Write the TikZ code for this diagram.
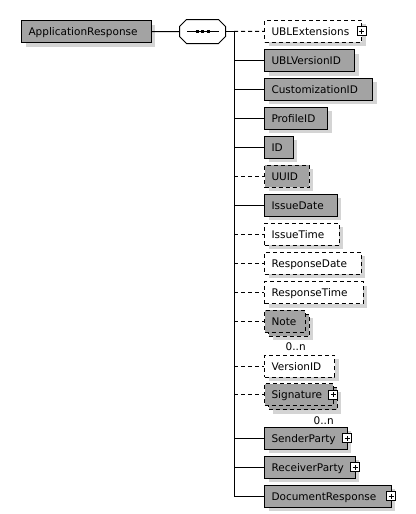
\documentclass[tikz,border=0pt]{standalone}
\usepackage{fontspec}
\setmainfont{DejaVu Sans}
\usetikzlibrary{shadows,calc}
\definecolor{elgray}{HTML}{A3A3A3}
\definecolor{shadowc}{HTML}{D4D4D4}
\begin{document}
\begin{tikzpicture}[x=1pt,y=-1pt,line width=1pt,
  font=\fontsize{10.5}{12}\selectfont,
  dsh/.style={dash pattern=on 4pt off 3pt},
  shad/.style={general shadow={shadow xshift=4pt,shadow yshift=-4pt,fill=shadowc,draw=none}},
  elem/.style={draw=black,line width=1pt,anchor=west,minimum height=22pt,inner xsep=7pt,inner ysep=0pt,align=left,text height=10pt,text depth=2.4pt,shad},
  req/.style={elem,fill=elgray},
  optwhite/.style={elem,fill=white,dsh},
  optgray/.style={elem,fill=elgray,dsh},
  multi/.style={general shadow={shadow xshift=8pt,shadow yshift=-8pt,fill=shadowc,draw=none},
                general shadow={shadow xshift=4pt,shadow yshift=-4pt,fill=elgray,draw=black,dsh}},
  plusbox/.style={draw=black,fill=white,minimum size=9pt,inner sep=0pt,line width=1pt,solid,
    path picture={\draw[line width=1pt] ([xshift=2pt]path picture bounding box.west) -- ([xshift=-2pt]path picture bounding box.east)
      ([yshift=-2pt]path picture bounding box.north) -- ([yshift=2pt]path picture bounding box.south);}},
  occ/.style={anchor=east,inner sep=0pt},
  conn/.style={draw=black,line width=1pt},
  optconn/.style={conn,dsh}]
\useasboundingbox (0,0) rectangle (415,514);

% root
\node[req,minimum width=129.7pt,text width=115.7pt] (root) at (21,31.7) {ApplicationResponse};

% sequence compositor
\node[minimum width=45pt,minimum height=23pt,inner sep=0pt] (seq) at (202.5,31.5) {};
\begin{scope}[shift={(4,4)}]
\fill[shadowc] ($(seq.north west)+(7,0)$) -- ($(seq.north east)+(-7,0)$) -- ($(seq.north east)+(0,7)$) -- ($(seq.south east)+(0,-7)$)
  -- ($(seq.south east)+(-7,0)$) -- ($(seq.south west)+(7,0)$) -- ($(seq.south west)+(0,-7)$) -- ($(seq.north west)+(0,7)$) -- cycle;
\end{scope}
\draw[fill=white] ($(seq.north west)+(7,0)$) -- ($(seq.north east)+(-7,0)$) -- ($(seq.north east)+(0,7)$) -- ($(seq.south east)+(0,-7)$)
  -- ($(seq.south east)+(-7,0)$) -- ($(seq.south west)+(7,0)$) -- ($(seq.south west)+(0,-7)$) -- ($(seq.north west)+(0,7)$) -- cycle;
\draw ($(seq.west)+(7.5,0)$) -- ($(seq.east)+(-6.5,0)$);
\foreach \dx in {-5.5,0,5.5} {\fill ($(seq.center)+(\dx-1.5,-1.5)$) rectangle ($(seq.center)+(\dx+1.5,1.5)$);}

% children
\node[optwhite,minimum width=97pt,text width=83pt] (ublext) at (264,31.3) {UBLExtensions};
\node[req,minimum width=90pt,text width=76pt] (ublver) at (264,60.6) {UBLVersionID};
\node[req,minimum width=108pt,text width=94pt] (cust) at (264,89.4) {CustomizationID};
\node[req,minimum width=63pt,text width=49pt] (prof) at (264,118.3) {ProfileID};
\node[req,minimum width=28.5pt,text width=14.5pt] (id) at (264,147.3) {ID};
\node[optgray,minimum width=44.7pt,text width=30.7pt] (uuid) at (264,176.3) {UUID};
\node[req,minimum width=72.7pt,text width=58.7pt] (idate) at (264,205.2) {IssueDate};
\node[optwhite,minimum width=74.7pt,text width=60.7pt] (itime) at (264,234.3) {IssueTime};
\node[optwhite,minimum width=96.7pt,text width=82.7pt] (rdate) at (264,263.3) {ResponseDate};
\node[optwhite,minimum width=98.7pt,text width=84.7pt] (rtime) at (264,292.5) {ResponseTime};
\node[optgray,multi,minimum width=40.7pt,text width=26.7pt] (note) at (264,321.2) {Note};
\node[optwhite,minimum width=70pt,text width=56pt] (verid) at (264,366.3) {VersionID};
\node[optgray,multi,minimum width=68.7pt,text width=54.7pt] (sig) at (264,394.7) {Signature};
\node[req,minimum width=82.7pt,text width=68.7pt] (sender) at (264,438.3) {SenderParty};
\node[req,minimum width=90.7pt,text width=76.7pt] (receiver) at (264,467.3) {ReceiverParty};
\node[req,minimum width=126.7pt,text width=112.7pt] (docresp) at (264,496.3) {DocumentResponse};

% expand boxes
\node[plusbox] (p1) at ([xshift=-0.5pt]ublext.east) {};
\node[plusbox] (p2) at ([xshift=-0.5pt]sig.east) {};
\node[plusbox] (p3) at ([xshift=-0.5pt]sender.east) {};
\node[plusbox] (p4) at ([xshift=-0.5pt]receiver.east) {};
\node[plusbox] (p5) at ([xshift=-0.5pt]docresp.east) {};

% occurrence labels
\node[occ] (noteocc) at ($(note.south east)+(0.5,14)$) {0..n};
\node[occ] (sigocc) at ($(sig.south east)+(0.5,14)$) {0..n};

% connectors
\coordinate (bt) at (234,31.5);
\draw[conn] (root.east) -- (seq.west);
\draw[conn] (seq.east) -- (bt);
\draw[conn] (bt) -- (bt |- docresp.west);
\draw[optconn] (bt) -- (ublext.west);
\foreach \n in {ublver,cust,prof,id,idate,sender,receiver,docresp} {\draw[conn] (bt |- \n.west) -- (\n.west);}
\foreach \n in {uuid,itime,rdate,rtime,note,verid,sig} {\draw[optconn] (bt |- \n.west) -- (\n.west);}
\end{tikzpicture}
\end{document}
